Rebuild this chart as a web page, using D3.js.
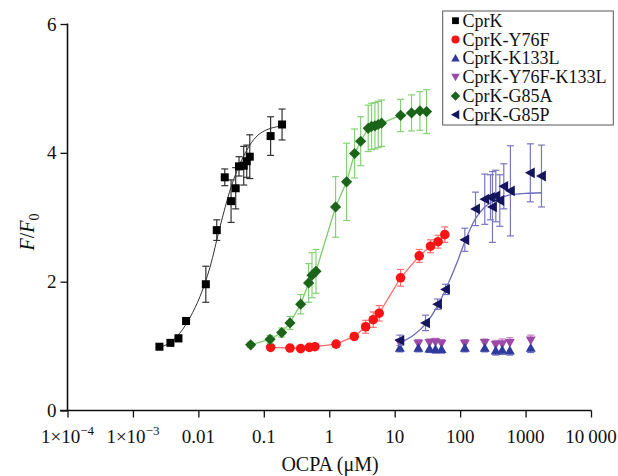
<!DOCTYPE html>
<html><head><meta charset="utf-8">
<script src="https://cdn.jsdelivr.net/npm/d3@7"></script>
<style>body{margin:0;background:#fff}svg{display:block}text{font-family:"Liberation Serif","Times New Roman",serif}</style>
</head><body><svg id="c" width="618" height="476"></svg>
<script>
// ---- data ----
const cprkX   = [0.00254,0.00374,0.00496,0.00649,0.0130,0.0191,0.0253,0.0316,0.0372,0.0418,0.0493,0.0548,0.061,0.127,0.19];
const cprkY   = [0.99,1.05,1.12,1.39,1.96,2.80,3.62,3.25,3.45,3.79,3.80,3.87,3.94,4.26,4.44];
const cprkE   = [0.03,0.04,0.05,0.05,0.28,0.16,0.13,0.33,0.32,0.15,0.30,0.25,0.34,0.30,0.24];
const cprkFitX = [0.0025,0.0035,0.0052,0.0075,0.0106,0.0151,0.0214,0.0305,0.0486,0.0875,0.19];
const cprkFitY = [0.98,1.04,1.20,1.45,1.77,2.23,2.85,3.42,3.94,4.30,4.42];

const y76fX = [0.127,0.251,0.366,0.496,0.605,1.27,2.41,3.6,4.7,5.8,12.3,23.7,35.3,46.1,58.3];
const y76fY = [0.98,0.97,0.96,0.98,0.99,1.03,1.15,1.30,1.41,1.51,2.06,2.40,2.55,2.62,2.73];
const y76fE = [0.03,0.03,0.03,0.03,0.03,0.04,0.05,0.10,0.12,0.12,0.13,0.10,0.10,0.10,0.12];

const kX    = [12,23,34,42,52,118,238,350,440,575,1200];
const k133Y = [0.97,0.97,0.96,0.95,0.95,0.97,0.97,0.93,0.94,0.93,0.97];
const k133E = [0.06,0.06,0.06,0.06,0.06,0.06,0.06,0.07,0.07,0.07,0.07];
const dblY  = [1.05,1.04,1.05,1.06,1.04,1.04,1.05,1.02,1.03,1.05,1.09];
const dblE  = [0.06,0.06,0.06,0.06,0.06,0.06,0.06,0.07,0.08,0.08,0.08];

const g85aX = [0.063,0.1245,0.1875,0.251,0.366,0.484,0.545,0.627,1.25,1.84,2.44,3.02,3.94,4.43,4.99,5.6,6.3,12.3,18.1,24.3,30.7];
const g85aY = [1.02,1.105,1.21,1.36,1.65,1.98,2.10,2.16,3.16,3.55,3.99,4.18,4.38,4.41,4.42,4.44,4.46,4.58,4.62,4.65,4.64];
const g85aE = [0.04,0.06,0.07,0.10,0.15,0.30,0.35,0.34,0.47,0.60,0.38,0.38,0.36,0.36,0.36,0.36,0.36,0.25,0.28,0.30,0.34];

const g85pX = [12,29.6,45.2,59.8,118,172,238,291,312,351,404,465,587,1183,1750];
const g85pY = [1.09,1.36,1.65,1.88,2.65,3.13,3.28,3.31,3.16,3.33,3.26,3.48,3.41,3.69,3.64];
const g85pE = [0.08,0.12,0.08,0.08,0.18,0.26,0.39,0.35,0.55,0.40,0.40,0.35,0.70,0.45,0.48];
const g85pFitX = [12,20,30,45,60,90,118,172,238,350,600,1000,1750];
const g85pFitY = [1.05,1.18,1.35,1.62,1.88,2.30,2.62,2.98,3.16,3.27,3.35,3.37,3.38];

const legendLabels = ["CprK","CprK-Y76F","CprK-K133L","CprK-Y76F-K133L","CprK-G85A","CprK-G85P"];
const xTickVals = [1e-4,1e-3,0.01,0.1,1,10,100,1000,10000];
const xTickText = [["1×10","−4"],["1×10","−3"],["0.01"],["0.1"],["1"],["10"],["100"],["1000"],["10\u2009000"]];
const yTickVals = [0,2,4,6];

// ---- scales ----
const svg = d3.select("#c");
const x = d3.scaleLog().domain([1e-4,1e4]).range([67.5,591]);
const y = d3.scaleLinear().domain([0,6]).range([410.5,24]);

// ---- axes ----
const minor = [];
for (let e=-4;e<4;e++) for (let m=2;m<=9;m++) minor.push(m*Math.pow(10,e));
const gx = svg.append("g").attr("transform","translate(0,410.5)");
gx.call(d3.axisBottom(x).tickValues(minor).tickSize(4).tickFormat(""));
gx.call(d3.axisBottom(x).tickValues(xTickVals).tickSize(7).tickFormat(""));
gx.selectAll("path.domain").remove();
gx.append("line").attr("x1",60).attr("x2",591.5).attr("y1",0).attr("y2",0).attr("stroke","#111").attr("stroke-width",1.6);
gx.selectAll("line").attr("stroke","#111").attr("stroke-width",1.3);
gx.selectAll(".xl").data(xTickVals).enter().append("text").attr("class","xl")
  .attr("x",d=>x(d)).attr("y",32.5).attr("text-anchor","middle").attr("font-size",19).attr("fill","#111")
  .each(function(d,i){
    const t=d3.select(this), parts=xTickText[i];
    t.append("tspan").text(parts[0]);
    if(parts[1]) t.append("tspan").attr("font-size",13).attr("dy",-8).text(parts[1]);
  });

const gy = svg.append("g").attr("transform","translate(67.5,0)");
gy.call(d3.axisLeft(y).tickValues([1,3,5]).tickSize(4).tickFormat(""));
gy.call(d3.axisLeft(y).tickValues(yTickVals).tickSize(7).tickPadding(4).tickFormat(d3.format("d")));
gy.selectAll("path.domain").remove();
gy.append("line").attr("x1",0).attr("x2",0).attr("y1",y(6)-0.5).attr("y2",y(0)+0.8).attr("stroke","#111").attr("stroke-width",1.6);
gy.selectAll(".tick line").attr("stroke","#111").attr("stroke-width",1.3);
gy.selectAll(".tick text").attr("font-size",19).attr("font-family","Liberation Serif").attr("fill","#111");

// axis titles
svg.append("text").attr("x",330).attr("y",471).attr("text-anchor","middle").attr("font-size",20).attr("fill","#111").text("OCPA (μM)");
const yt = svg.append("text").attr("transform","translate(34,232) rotate(-90)").attr("text-anchor","middle").attr("font-size",20).attr("fill","#111");
yt.append("tspan").attr("font-style","italic").text("F");
yt.append("tspan").text("/");
yt.append("tspan").attr("font-style","italic").text("F");
yt.append("tspan").attr("font-size",14).attr("dy",5).text("0");

// ---- marker shapes ----
const shapes = {
  square:"M-4,-4H4V4H-4Z",
  circle:d3.symbol(d3.symbolCircle,72)(),
  up:"M0,-5L5,3.8L-5,3.8Z",
  down:"M0,5L5,-3.8L-5,-3.8Z",
  diamond:"M0,-5.6L5.6,0L0,5.6L-5.6,0Z",
  left:"M-5.4,0L4.4,-5.4L4.4,5.4Z"
};
const plot = svg.append("g");
function series(xs,ys,es,opt){
  const g = plot.append("g");
  const pts = xs.map((v,i)=>({x:v,y:ys[i],e:es[i]}));
  if (opt.line) {
    const lx = opt.line[0], ly = opt.line[1];
    const lp = lx.map((v,i)=>[v,ly[i]]);
    g.append("path").datum(lp).attr("fill","none").attr("stroke",opt.lineColor).attr("stroke-width",opt.lineW||1.3)
      .attr("d",d3.line().x(d=>x(d[0])).y(d=>y(d[1])).curve(opt.curve||d3.curveLinear));
  }
  const eb = g.selectAll(".eb").data(pts).enter().append("g").attr("stroke",opt.errColor).attr("stroke-width",1.2);
  eb.append("line").attr("x1",d=>x(d.x)).attr("x2",d=>x(d.x))
    .attr("y1",d=>y(opt.errDir==="down"?d.y:d.y+d.e)).attr("y2",d=>y(opt.errDir==="up"?d.y:d.y-d.e));
  if (opt.errDir!=="down") eb.append("line").attr("x1",d=>x(d.x)-3.5).attr("x2",d=>x(d.x)+3.5).attr("y1",d=>y(d.y+d.e)).attr("y2",d=>y(d.y+d.e));
  if (opt.errDir!=="up") eb.append("line").attr("x1",d=>x(d.x)-3.5).attr("x2",d=>x(d.x)+3.5).attr("y1",d=>y(d.y-d.e)).attr("y2",d=>y(d.y-d.e));
  g.selectAll(".m").data(pts).enter().append("path").attr("d",shapes[opt.shape]).attr("fill",opt.color)
    .attr("transform",d=>`translate(${x(d.x)},${y(d.y)})`);
}
series(y76fX,y76fY,y76fE,{shape:"circle",color:"#f81414",errColor:"#ff7070",line:[y76fX,y76fY],lineColor:"#ff6a6a"});
series(g85aX,g85aY,g85aE,{shape:"diamond",color:"#1b651b",errColor:"#86d076",line:[g85aX,g85aY],lineColor:"#7ccc6c"});
series(kX,dblY,dblE,{shape:"down",color:"#9c4aa8",errColor:"#c27ac8",errDir:"up"});
series(kX,k133Y,k133E,{shape:"up",color:"#2e3a9c",errColor:"#6a70c0",errDir:"down"});
series(g85pX,g85pY,g85pE,{shape:"left",color:"#15155e",errColor:"#7676c0",line:[g85pFitX,g85pFitY],lineColor:"#6a6ab8",curve:d3.curveMonotoneX});
series(cprkX,cprkY,cprkE,{shape:"square",color:"#000",errColor:"#333",line:[cprkFitX,cprkFitY],lineColor:"#333",lineW:1,curve:d3.curveMonotoneX});

// ---- legend ----
const lg = svg.append("g");
lg.append("rect").attr("x",442.7).attr("y",11).attr("width",170.6).attr("height",114).attr("fill","#fff").attr("stroke","#555").attr("stroke-width",1);
const legShapes = ["square","circle","up","down","diamond","left"];
const legColors = ["#000","#f81414","#2e3a9c","#9c4aa8","#1b651b","#15155e"];
legendLabels.forEach((lab,i)=>{
  const by = 26.7 + i*18.8;
  lg.append("path").attr("d",shapes[legShapes[i]]).attr("fill",legColors[i])
    .attr("transform",`translate(455.5,${by-6}) scale(0.85)`);
  lg.append("text").attr("x",462.5).attr("y",by).attr("font-size",18).attr("fill","#111").text(lab);
});
</script></body></html>
